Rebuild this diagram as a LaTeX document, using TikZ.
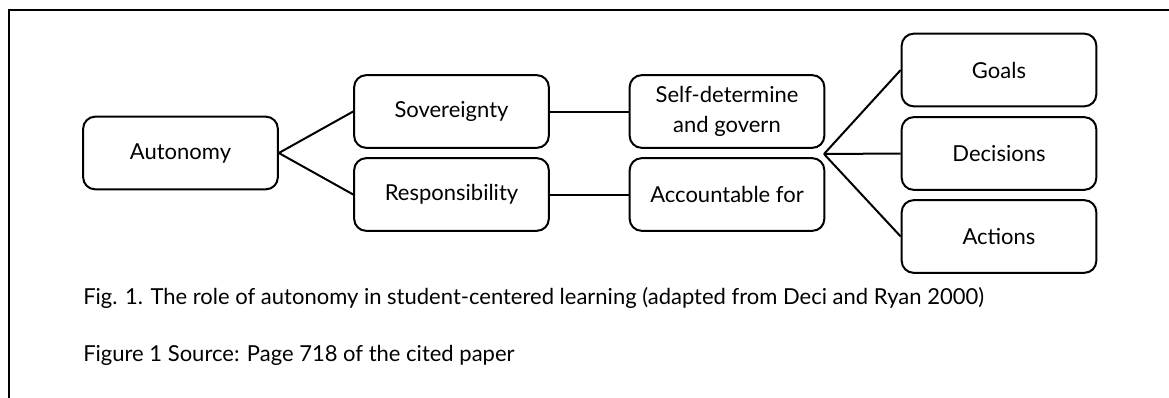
\documentclass[tikz,border=0pt]{standalone}
\usepackage{fontspec}
\setmainfont{Lato}
\usepackage{tikz}
\usetikzlibrary{positioning}

\begin{document}
\begin{tikzpicture}[x=0.75pt,y=-0.75pt]

					\tikzstyle{box} = [
						draw,
						rectangle,
						rounded corners=9pt,
						line width=1.5pt,
						minimum width=146pt,
						minimum height=54.5pt,
						align=center,
						font=\fontsize{16.5}{22.5}\selectfont
					]
					\tikzstyle{link} = [line width=1.5pt]
					\tikzstyle{caption} = [anchor=base west, inner sep=0pt, font=\fontsize{16.5}{20}\selectfont]

					\useasboundingbox (0,0) rectangle (1169,397);
					\clip (0,0) rectangle (1169,397);
					\draw [line width=2pt] (9,10) rectangle (1200,430);

					\node (auto) [style=box] at (180.5,153) {Autonomy};

					\node (sov) [style=box] at (451.5,111.5) {Sovereignty};
					\node (resp) [style=box] at (451.5,194.5) {Responsibility};

					\node (selfdet) [style=box] at (727,111.5) {Self-determine\\and govern};
					\node (account) [style=box] at (727,194.5) {Accountable for};

					\node (goals) [style=box] at (999,70) {Goals};
					\node (decis) [style=box] at (999,153.5) {Decisions};
					\node (actions) [style=box] at (999,236.5) {Actions};

					\coordinate (fan) at (824,154);

					\draw [style=link] (auto.east) -- (sov.west);
					\draw [style=link] (auto.east) -- (resp.west);
					\draw [style=link] (sov) -- (selfdet);
					\draw [style=link] (resp) -- (account);
					\draw [style=link] (fan) -- (goals.west);
					\draw [style=link] (fan) -- (decis.west);
					\draw [style=link] (fan) -- (actions.west);

					\node (cap) [style=caption] at (83,304) {Fig. 1. The role of autonomy in student-centered learning (adapted from Deci and Ryan 2000)};
					\node (src) [style=caption] at (83,361) {Figure 1 Source: Page 718 of the cited paper};

				\end{tikzpicture}
\end{document}
